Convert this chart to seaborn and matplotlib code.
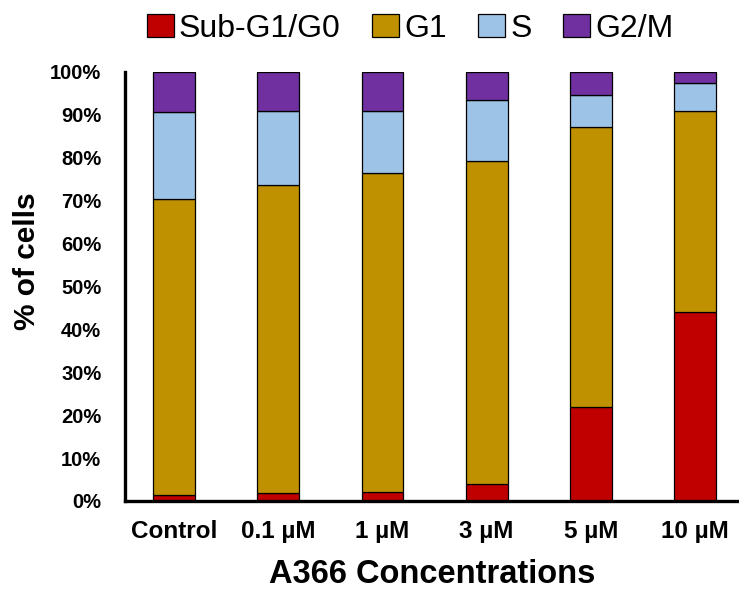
import matplotlib
matplotlib.use("Agg")
import matplotlib.pyplot as plt
import seaborn as sns
import numpy as np
import pandas as pd
from matplotlib.patches import Patch
from matplotlib.ticker import FuncFormatter

categories = ["Control", "0.1 µM", "1 µM", "3 µM", "5 µM", "10 µM"]
series_names = ["Sub-G1/G0", "G1", "S", "G2/M"]
sub_g1 = [1.4, 1.8, 2.1, 3.9, 22.0, 44.0]
g1 = [69.1, 71.8, 74.3, 75.4, 65.1, 46.9]
s_phase = [20.1, 17.4, 14.6, 14.2, 7.5, 6.5]
g2m = [9.4, 9.0, 9.0, 6.5, 5.4, 2.6]
colors = ["#C00000", "#BF9000", "#9DC3E6", "#7030A0"]

sns.set_style("white")
plt.rcParams["font.family"] = ["Liberation Sans", "DejaVu Sans"]
plt.rcParams["text.color"] = "black"
plt.rcParams["axes.labelcolor"] = "black"
plt.rcParams["xtick.color"] = "black"
plt.rcParams["ytick.color"] = "black"

fig = plt.figure(figsize=(7.39, 5.90), dpi=100)
ax = fig.add_axes([0.169, 0.151, 0.831, 0.727])

series = [sub_g1, g1, s_phase, g2m]
bottom = np.zeros(len(categories))
for name, vals, col in zip(series_names, series, colors):
    df = pd.DataFrame({"cat": categories, "val": vals})
    sns.barplot(data=df, x="cat", y="val", color=col, bottom=bottom,
                width=0.4, edgecolor="black", linewidth=0.9, ax=ax,
                saturation=1, errorbar=None)
    bottom = bottom + np.array(vals)

ax.set_ylim(0, 100)
ax.set_xlim(-0.47, 5.42)
ax.set_yticks(np.arange(0, 101, 10))
ax.yaxis.set_major_formatter(FuncFormatter(lambda v, p: f"{int(v)}%"))
for sp in ["top", "right"]:
    ax.spines[sp].set_visible(False)
for sp in ["left", "bottom"]:
    ax.spines[sp].set_linewidth(2.4)
    ax.spines[sp].set_color("black")
ax.tick_params(axis="y", length=0, labelsize=14.5, pad=17)
ax.tick_params(axis="x", length=0, labelsize=17.5, pad=14)
for lab in ax.get_xticklabels() + ax.get_yticklabels():
    lab.set_fontweight("bold")
ax.set_xlabel("A366 Concentrations", fontsize=23.5, fontweight="bold", labelpad=11)
ax.set_ylabel("% of cells", fontsize=21.5, fontweight="bold")
ax.yaxis.set_label_coords(-0.137, 0.559)

handles = [Patch(facecolor=c, edgecolor="black", linewidth=0.9) for c in colors]
fig.legend(handles, series_names, loc="center", bbox_to_anchor=(0.555, 0.951),
           ncol=4, frameon=False, fontsize=23, handlelength=0.84,
           handleheight=0.72, handletextpad=0.15, columnspacing=1.0,
           borderaxespad=0, borderpad=0)

fig.savefig("out.png", dpi=100)
